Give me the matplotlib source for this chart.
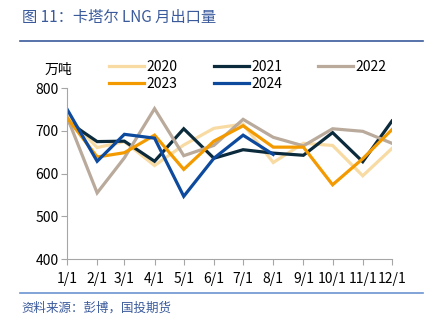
import matplotlib.pyplot as plt
import matplotlib.dates as mdates
from datetime import date

plt.rcParams['font.family'] = ['Noto Sans CJK SC', 'DejaVu Sans']

months = [date(2023, m, 1) for m in range(1, 13)]
month_labels = [f'{m}/1' for m in range(1, 13)]

y2020 = [735, 661, 675, 619, 667, 706, 716, 626, 671, 666, 595, 659]
y2021 = [723, 675, 676, 629, 705, 636, 656, 648, 643, 696, 628, 723]
y2022 = [733, 555, 637, 752, 642, 666, 727, 685, 665, 705, 699, 671]
y2023 = [731, 639, 649, 690, 610, 676, 712, 662, 662, 574, 635, 703]
y2024 = [751, 629, 692, 683, 547, 636, 690, 645]

series = [
    ('2020', y2020, '#f8dba3'),
    ('2021', y2021, '#0b2a3c'),
    ('2022', y2022, '#b9aa9c'),
    ('2023', y2023, '#f39a00'),
    ('2024', y2024, '#0d4a9e'),
]

fig = plt.figure(figsize=(4.35, 3.24), dpi=100)
ax = fig.add_axes([0.154, 0.2, 0.747, 0.528])

lines = {}
for name, vals, col in series:
    lines[name], = ax.plot(months[:len(vals)], vals, color=col, lw=2.3,
                           label=name, solid_joinstyle='miter')

ax.set_ylim(400, 800)
ax.set_yticks([400, 500, 600, 700, 800])
ax.set_xlim(months[0], months[-1])
ax.set_xticks(months)
ax.set_xticklabels(month_labels)
ax.tick_params(labelsize=10, color='#a6a6a6', length=4, pad=2)
ax.tick_params(axis='x', pad=5)
for s in ['top', 'right']:
    ax.spines[s].set_visible(False)
for s in ['left', 'bottom']:
    ax.spines[s].set_color('#a6a6a6')

order = ['2020', '2023', '2021', '2024', '2022']
fig.legend([lines[k] for k in order], order, ncol=3, frameon=False,
           loc='center left', bbox_to_anchor=(0.235, 0.767),
           fontsize=10, handlelength=2.5, columnspacing=2.6,
           handletextpad=0.2, labelspacing=0.2, borderpad=0)

fig.text(0.103, 0.785, '万吨', fontsize=10, ha='left', va='center')

blue = '#3a5a9c'
fig.text(0.05, 0.945, '图 11：卡塔尔 LNG 月出口量', fontsize=11, color=blue,
         ha='left', va='center')
fig.add_artist(plt.Line2D([0.045, 0.972], [0.872, 0.872], color=blue, lw=1.2))
fig.add_artist(plt.Line2D([0.045, 0.972], [0.096, 0.096], color='#6c93cf', lw=1.2))
fig.text(0.05, 0.05, '资料来源：彭博，国投期货', fontsize=9, color=blue,
         style='italic', ha='left', va='center')

fig.savefig('out.png', dpi=100)
